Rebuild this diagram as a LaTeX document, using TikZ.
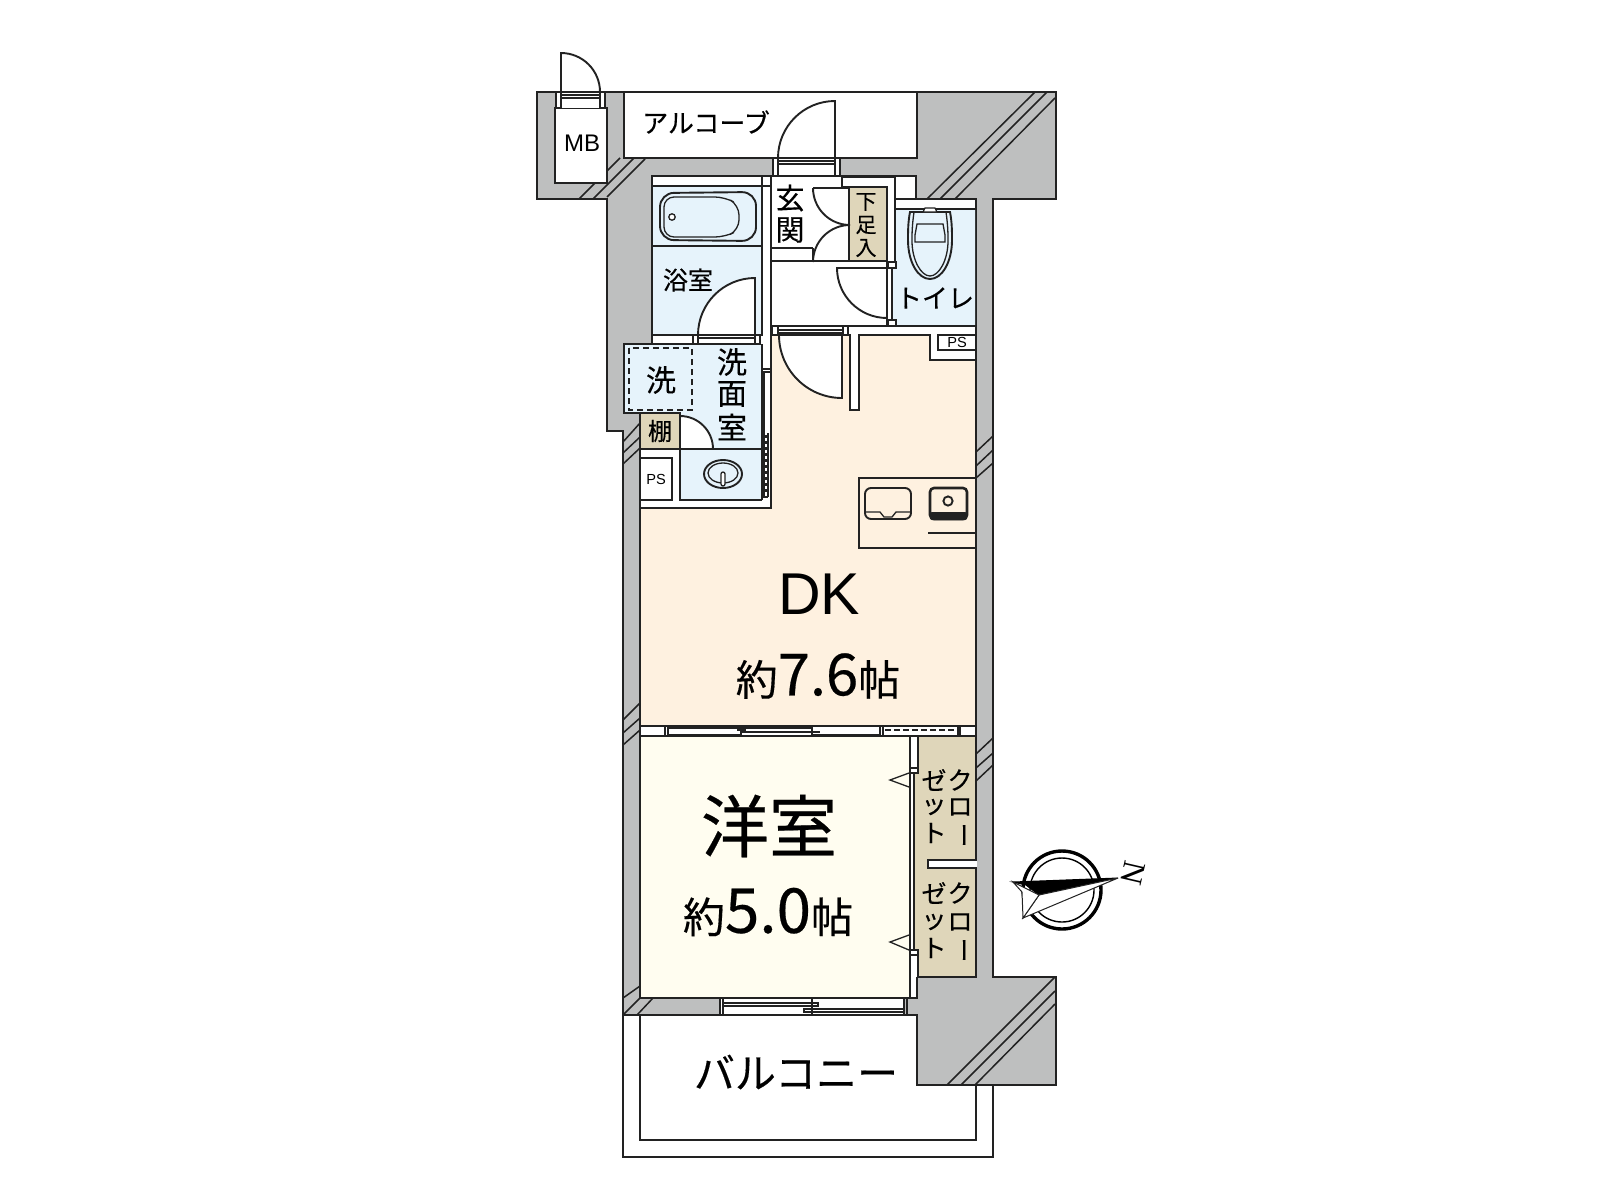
\documentclass[tikz,border=0pt]{standalone}
\usepackage{fontspec}
\setmainfont{Liberation Sans}
\newfontfamily\jp{Noto Sans CJK JP}[RawFeature={embolden=0.35}]
\newfontfamily\nfont{Liberation Serif}
\newcommand{\fsz}[1]{\fontsize{#1}{#1}\selectfont}
\definecolor{wallgray}{HTML}{BEBFBF}
\definecolor{wetblue}{HTML}{E6F3FB}
\definecolor{dkbeige}{HTML}{FEF1E0}
\definecolor{roomcream}{HTML}{FFFDF0}
\definecolor{storetan}{HTML}{DFD6BA}
\definecolor{ink}{HTML}{222222}
\tikzset{
  ln/.style={draw=ink,line width=0.95pt,line join=miter},
  thin ln/.style={draw=ink,line width=0.65pt},
  hatch/.style={draw=ink,line width=0.75pt},
  lab/.style={inner sep=0pt,outer sep=0pt,text=black,font=\jp},
}
\begin{document}
\begin{tikzpicture}[x=0.5pt,y=-0.5pt]
\useasboundingbox (0,0) rectangle (1600,1200);
\fill[white] (0,0) rectangle (1600,1200);
% balcony
\draw[ln,fill=white] (623,1015) -- (623,1157) -- (993,1157) -- (993,1085) -- (976,1085) -- (976,1140) -- (640,1140) -- (640,1015) -- cycle;
% wall mass
\draw[ln,fill=wallgray] (537,92) -- (1056,92) -- (1056,199) -- (993,199) -- (993,977) -- (1056,977) -- (1056,1085) -- (917,1085) -- (917,1015) -- (623,1015) -- (623,431) -- (607,431) -- (607,199) -- (537,199) -- cycle;
% hatches
\foreach \a/\b/\c/\d in {579/199/620/158,593/199/634/158,607/197/645/159,
 927/199/1035/92,940/199/1047/92,955/199/1055/98,
 947/1085/1055/977,961/1085/1055/991,975/1085/1055/1004,
 623/442/640/423,623/453/640/437,623/464/640/448,
 623/720/640/703,623/733/640/718,623/745/640/730,
 976/452/993/436,976/466/993/450,976/478/993/463,
 976/754/993/738,976/768/993/753,976/781/993/765,
 623/998/640/986,623/1015/640/998,637/1015/653/998}
  \draw[hatch] (\a,\b) -- (\c,\d);
% alcove
\draw[ln,fill=white] (624,92) rectangle (917,158);
% MB
\draw[ln,fill=white] (555,108) rectangle (607,183);
\fill[white] (561,92) rectangle (600,108);
\draw[thin ln] (561,95) -- (600,95) (561,98) -- (600,98);
\draw[thin ln,fill=white] (556,92) rectangle (561,108) (600,92) rectangle (605,108);
\draw[ln,fill=white] (561,92) -- (561,53) arc[start angle=90,end angle=0,radius=19.5pt] -- cycle;
% interior
\draw[ln,fill=white] (652,176) -- (916,176) -- (916,199) -- (976,199) -- (976,977) -- (917,977) -- (917,998) -- (640,998) -- (640,413) -- (624,413) -- (624,344) -- (652,344) -- cycle;
% DK
\draw[ln,fill=dkbeige] (771,335) -- (850,335) -- (850,410) -- (859,410) -- (859,335) -- (930,335) -- (930,360) -- (976,360) -- (976,726) -- (640,726) -- (640,508) -- (771,508) -- cycle;
\draw[thin ln,fill=white] (938,335) rectangle (976,350);
% bath
\draw[ln,fill=wetblue] (652,186) rectangle (762,335);
\draw[ln] (652,246) -- (762,246);
\draw[ln] (652,176) rectangle (771,186);
\fill[white] (653,177) rectangle (770,185);
\draw[ln] (771,176) -- (771,335);
\draw[ln] (762,176) -- (762,186);
\draw[ln,rounded corners=7pt] (660,193) -- (756,192) -- (756,241) -- (660,240) -- cycle;
\draw[thin ln,rounded corners=5pt] (664,197) -- (725,197) -- (739,205) -- (739,230) -- (725,237) -- (664,237) -- cycle;
\draw[thin ln,fill=white] (672,217) circle[radius=1.6pt];
\draw[ln,fill=white] (755,335) -- (755,278) arc[start angle=90,end angle=180,radius=28.5pt] -- cycle;
\fill[white] (653,336) rectangle (761,343);
\draw[ln] (652,335) -- (762,335) (693,338) -- (760,338);
\draw[thin ln,fill=white] (693,335) rectangle (698,344) (755,335) rectangle (760,344);
% wash
\fill[wetblue] (625,345) rectangle (761,412) (641,412) rectangle (761,449);
\fill[wetblue] (681,449) rectangle (761,499);
\draw[ln] (624,344) -- (760,344);
\draw[ln] (762,344) -- (762,500);
\draw[ln] (624,344) -- (624,413) -- (640,413);
\draw[line width=0.8pt,draw=ink,dash pattern=on 3pt off 2pt] (629,348) rectangle (692,410);
\draw[ln,fill=storetan] (640,413) rectangle (680,449);
\draw[ln,fill=white] (680,449) -- (680,416) arc[start angle=90,end angle=0,radius=16.5pt] -- cycle;
\draw[ln] (680,413) -- (680,416);
\draw[ln] (680,449) -- (762,449) (680,449) -- (680,500) -- (762,500);
\draw[ln] (640,508) -- (771,508) -- (771,335);
\draw[thin ln,fill=white] (640,458) rectangle (672,500);
% basin
\draw[ln] (723,474) ellipse[x radius=19,y radius=14];
\draw[thin ln] (723,473) ellipse[x radius=15,y radius=10];
\draw[thin ln,fill=white,rounded corners=1pt] (721,472) rectangle (725,486);
% wash sliding door
\draw[thin ln] (763,369) -- (771,369) (763,372) -- (771,372);
\draw[thin ln] (764,372) -- (764,497) (768,433) -- (768,497);
\draw[line width=1pt,draw=ink,dash pattern=on 1.5pt off 1.5pt] (766,435) -- (766,495);
\draw[thin ln] (763,497) -- (768,497);
% entrance
\draw[ln] (771,176.5) -- (842,176.5) -- (842,187) -- (849,187);
\fill[wallgray] (843,160) rectangle (915,175);
\fill[white] (843,177) rectangle (895,186);
\draw[ln] (842,177) -- (895,177) -- (895,262);
\draw[ln] (916,176) -- (895,176);
\draw[ln] (895,199) -- (916,199);
\draw[ln,fill=storetan] (849,187) rectangle (887,261);
\draw[ln] (842,187) -- (849,187);
\draw[ln] (813,188) -- (849,188) (813,261) -- (849,261);
\draw[ln] (813,188) arc[start angle=180,end angle=270,radius=18.5pt];
\draw[ln] (813,262) arc[start angle=180,end angle=90,radius=18.5pt];
\draw[ln] (771,248) -- (813,248);
\draw[ln] (813,248) -- (813,261);
\draw[ln] (771,261) -- (849,261);
% alcove door
\fill[white] (778,159) rectangle (835,175);
\draw[thin ln] (778,161) -- (835,161) (778,164) -- (835,164);
\draw[thin ln,fill=white] (773,158) rectangle (778,176) (835,158) rectangle (840,176);
\draw[ln,fill=white] (835,158) -- (835,101) arc[start angle=90,end angle=180,radius=28.5pt] -- cycle;
\draw[ln] (762,176.5) -- (842,176.5);
% toilet
\fill[wetblue] (896,209) rectangle (975,268) (892,268) rectangle (975,325);
\draw[ln] (896,209) -- (976,209);
\draw[ln] (887,268) -- (896,268) (887,261) -- (887,326);
\draw[ln] (892,268) -- (892,320);
\draw[thin ln,fill=white] (888,262) rectangle (896,268);
\draw[thin ln,fill=white] (888,320) rectangle (896,326);
\draw[ln] (896,326) -- (976,326);
\draw[ln] (771,326) -- (888,326);
\draw[ln,fill=wetblue] (910,212) .. controls (908,222) and (908,232) .. (908,240) .. controls (908,262) and (918,279) .. (930,279) .. controls (942,279) and (952,262) .. (952,240) .. controls (952,232) and (952,222) .. (950,212) -- cycle;
\draw[thin ln] (914,212) .. controls (912,226) and (912,234) .. (912,241) .. controls (912,260) and (921,276) .. (930,276) .. controls (939,276) and (948,260) .. (948,241) .. controls (948,234) and (948,226) .. (946,212);
\draw[thin ln,fill=wetblue] (917,224) -- (943,224) -- (945,235) -- (945,242) -- (915,242) -- (915,235) -- cycle;
\draw[thin ln,fill=white] (923,212) -- (937,212) -- (935,208) -- (925,208) -- cycle;
% hall door
\draw[ln,fill=white] (887,268) -- (837,268) arc[start angle=180,end angle=270,radius=25pt] -- cycle;
% DK door
\draw[ln,fill=white] (842,335) -- (779,335) arc[start angle=180,end angle=270,radius=31.5pt] -- cycle;
\fill[white] (772,327) rectangle (849,334);
\draw[thin ln] (778,330) -- (843,330) (778,333) -- (843,333);
\draw[thin ln,fill=white] (772,326) rectangle (778,335) (843,326) rectangle (848,335);
\draw[ln] (859,335) -- (930,335);
\draw[ln] (771,335) -- (850,335);
% kitchen
\draw[ln] (976,478) -- (859,478) -- (859,548) -- (976,548);
\draw[ln] (928,533) -- (976,533);
\draw[ln,rounded corners=3pt] (865,488) rectangle (911,519);
\draw[thin ln] (866,512) -- (880,512) -- (884,517) -- (892,517) -- (896,512) -- (910,512);
\draw[line width=1.3pt,draw=ink,rounded corners=2pt,fill=dkbeige] (930,488) rectangle (967,519);
\fill[ink,rounded corners=1pt] (930,512) rectangle (967,520);
\draw[ln] (948,501) circle[radius=2.3pt];
% western room + closets
\draw[ln,fill=roomcream] (640,736) -- (910,736) -- (910,998) -- (640,998) -- cycle;
\fill[white] (911,737) rectangle (917,997);
\draw[ln,fill=storetan] (918,736) -- (976,736) -- (976,977) -- (918,977) -- (918,955) -- (914,955) -- (914,768) -- (918,768) -- cycle;
\draw[thin ln,fill=white] (910,768) rectangle (918,773) (910,950) rectangle (918,955);
\draw[ln] (917,977) -- (917,998);
\draw[ln,fill=white] (928,860) rectangle (976,868);
\fill[white] (929,861) rectangle (976.5,867);
\draw[thin ln] (909,773) -- (890,780) -- (909,787);
\draw[thin ln] (909,935) -- (890,942) -- (909,950);
% window between DK and room
\fill[white] (641,727) rectangle (975,735);
\draw[ln] (640,726) -- (976,726) (640,736) -- (976,736);
\draw[thin ln] (665,726) -- (665,736) (668,726) -- (668,736) (880,726) -- (880,736) (958,726) -- (958,736) (960,726) -- (960,736) (883,726) -- (883,736);
\draw[thin ln] (668,735) -- (741,735) (741,726) -- (741,736) (741,728) -- (812,728) (741,732) -- (812,732) (812,726) -- (812,736);
\draw[line width=1.1pt,draw=ink] (737,730) -- (746,730);
\draw[line width=1.1pt,draw=ink] (806,732) -- (820,732);
\draw[thin ln] (668,728) -- (741,728) (812,735) -- (880,735);
\draw[thin ln,dash pattern=on 3pt off 1.5pt] (885,730) -- (956,730);
% balcony window
\fill[white] (720,999) rectangle (905,1014);
\draw[thin ln] (720,998) -- (720,1015) (723,998) -- (723,1015) (904,998) -- (904,1015) (907,998) -- (907,1015) (812,998) -- (812,1015);
\draw[thin ln] (723,1003) rectangle (818,1006) (804,1009) rectangle (904,1012);
\draw[ln] (623,1015) -- (917,1015) (640,998) -- (917,998);
% compass
\draw[line width=1.7pt,draw=black,fill=white] (1062,890) circle[radius=19.5pt];
\draw[line width=0.7pt,draw=black] (1062,890) circle[radius=16pt];
\draw[line width=0.5pt,draw=black,fill=black] (1013,882) -- (1118,878) -- (1039,895) -- (1026,885) -- cycle;
\draw[line width=0.5pt,draw=ink,fill=white] (1118,878) -- (1023,918) -- (1039,895) -- cycle;
\draw[line width=0.5pt,draw=ink,fill=white] (1013,882) -- (1039,895) -- (1023,918) -- (1022,892) -- cycle;
% labels
\node[lab,font=\jp\fsz{13}] (alcove) at (706,122) {アルコーブ};
\node[lab,font=\fsz{12}] (mb) at (582,143) {MB};
\node[lab,font=\jp\fsz{14.5}] (gen) at (790,198) {玄};
\node[lab,font=\jp\fsz{14.5}] (kan) at (790,230) {関};
\node[lab,font=\jp\fsz{10.5}] (shoe1) at (866,202) {下};
\node[lab,font=\jp\fsz{10.5}] (shoe2) at (866,225) {足};
\node[lab,font=\jp\fsz{10.5}] (shoe3) at (866,248) {入};
\node[lab,font=\jp\fsz{12.5}] (bath) at (688,280) {浴室};
\node[lab,font=\jp\fsz{15}] (w1) at (732,362) {洗};
\node[lab,font=\jp\fsz{15}] (w2) at (732,394) {面};
\node[lab,font=\jp\fsz{15}] (w3) at (732,427) {室};
\node[lab,font=\jp\fsz{15}] (wm) at (661,380) {洗};
\node[lab,font=\jp\fsz{12}] (shelf) at (660,431) {棚};
\node[lab,font=\fsz{7.3}] (ps1) at (656,479) {PS};
\node[lab,font=\fsz{7.3}] (ps2) at (957,342) {PS};
\node[lab,font=\jp\fsz{13}] (toilet) at (935,298) {トイレ};
\node[lab,font=\fsz{29.5}] (dk) at (819,594) {DK};
\node[lab] (dksize) at (818,676) {{\jp\fsz{21}約}{\fsz{29}7.6}{\jp\fsz{21}帖}};
\node[lab,font=\jp\fsz{34}] (west) at (769,826) {洋室};
\node[lab] (westsize) at (768,912) {{\jp\fsz{21}約}{\fsz{31}5.0}{\jp\fsz{21}帖}};
\node[lab,font=\jp\fsz{12.5}] (c1a) at (960,780) {ク};
\node[lab,font=\jp\fsz{12.5}] (c1b) at (960,807) {ロ};
\node[lab,font=\jp\fsz{12.5},rotate=-90] (c1c) at (960,835) {ー};
\node[lab,font=\jp\fsz{12.5}] (c1d) at (934,780) {ゼ};
\node[lab,font=\jp\fsz{12.5}] (c1e) at (934,807) {ッ};
\node[lab,font=\jp\fsz{12.5}] (c1f) at (934,833) {ト};
\node[lab,font=\jp\fsz{12.5}] (c2a) at (960,893) {ク};
\node[lab,font=\jp\fsz{12.5}] (c2b) at (960,922) {ロ};
\node[lab,font=\jp\fsz{12.5},rotate=-90] (c2c) at (960,950) {ー};
\node[lab,font=\jp\fsz{12.5}] (c2d) at (934,893) {ゼ};
\node[lab,font=\jp\fsz{12.5}] (c2e) at (934,922) {ッ};
\node[lab,font=\jp\fsz{12.5}] (c2f) at (934,948) {ト};
\node[lab,font=\jp\fsz{20.5}] (balc) at (796,1072) {バルコニー};
\node[lab,font=\nfont\fsz{16},rotate=-103] (north) at (1133,873) {N};
\end{tikzpicture}
\end{document}
